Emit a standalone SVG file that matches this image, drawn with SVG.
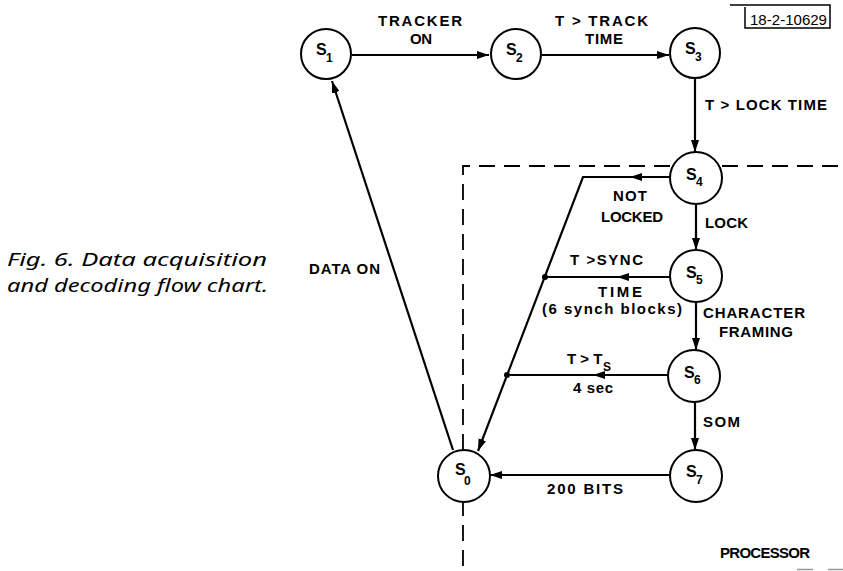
<svg xmlns="http://www.w3.org/2000/svg" width="843" height="571" viewBox="0 0 843 571">
<style>
.n{fill:#fff;stroke:#000;stroke-width:2}
.e{fill:none;stroke:#000;stroke-width:2.2}
.d{fill:none;stroke:#000;stroke-width:1.8;stroke-dasharray:16 9}
.t{font-family:"Liberation Sans",Arial,sans-serif;font-weight:bold;font-size:15px;fill:#000}
.s{font-family:"Liberation Sans",Arial,sans-serif;font-weight:bold;font-size:16px;fill:#000}
.sub{font-family:"Liberation Sans",Arial,sans-serif;font-weight:bold;font-size:12px;fill:#000}
.cap{font-family:"Noto Sans","Liberation Sans",sans-serif;font-style:italic;font-size:18px;fill:#000}
</style>
<defs>
<marker id="ah" viewBox="0 0 12 8" refX="12" refY="4" markerWidth="12" markerHeight="8" markerUnits="userSpaceOnUse" orient="auto">
<path d="M0,0 L12,4 L0,8 z" fill="#000"/>
</marker>
</defs>
<rect width="843" height="571" fill="#fff"/>

<g id="boundary">
<path class="d" d="M463,566 V500"/>
<path class="d" d="M463,450 V166 H670"/>
<path class="d" d="M722,166 H843"/>
<path d="M797,569.5 H813 M828,569.5 H843" stroke="#999" stroke-width="1.5" fill="none"/>
</g>

<g id="tag">
<path d="M730,5 H830 V28 H745 V7" fill="none" stroke="#000" stroke-width="1.5"/>
<text x="750" y="25" font-family="'Liberation Sans',Arial,sans-serif" font-size="15" textLength="77" lengthAdjust="spacingAndGlyphs">18-2-10629</text>
</g>

<g id="caption">
<text class="cap" x="7" y="266" textLength="260" lengthAdjust="spacingAndGlyphs">Fig. 6.  Data acquisition</text>
<text class="cap" x="7" y="292" textLength="261" lengthAdjust="spacingAndGlyphs">and decoding flow chart.</text>
</g>

<g id="connectors">
<path class="e" d="M352,55 L489,55" marker-end="url(#ah)"/>
<path class="e" d="M542,55 L669,55" marker-end="url(#ah)"/>
<path class="e" d="M695,79 L695,152" marker-end="url(#ah)"/>
<path class="e" d="M670,177 L630,177" marker-end="url(#ah)"/>
<path class="e" d="M632,177 L583,177 L478,451" marker-end="url(#ah)"/>
<path class="e" d="M696,204 L696,250" marker-end="url(#ah)"/>
<path class="e" d="M670,277 L617,277" marker-end="url(#ah)"/>
<path class="e" d="M619,277 L545,277"/>
<path class="e" d="M696,302 L696,350" marker-end="url(#ah)"/>
<path class="e" d="M668,375 L593,375" marker-end="url(#ah)"/>
<path class="e" d="M595,375 L507,375"/>
<path class="e" d="M695,402 L695,450" marker-end="url(#ah)"/>
<path class="e" d="M670,475 L490,475" marker-end="url(#ah)"/>
<path class="e" d="M453,450 L332,81" marker-end="url(#ah)"/>
<circle cx="545" cy="277" r="3" fill="#000"/>
<circle cx="507" cy="375" r="3" fill="#000"/>
</g>

<g id="labels">
<text class="t" x="378" y="26" textLength="84" lengthAdjust="spacing">TRACKER</text>
<text class="t" x="410" y="44" textLength="22" lengthAdjust="spacing">ON</text>
<text class="t" x="555" y="26" textLength="93" lengthAdjust="spacing">T &gt; TRACK</text>
<text class="t" x="585" y="44" textLength="38" lengthAdjust="spacing">TIME</text>
<text class="t" x="705" y="110" textLength="122" lengthAdjust="spacing">T &gt; LOCK TIME</text>
<text class="t" x="613" y="201" textLength="34" lengthAdjust="spacing">NOT</text>
<text class="t" x="601" y="222" textLength="62" lengthAdjust="spacing">LOCKED</text>
<text class="t" x="705" y="228" textLength="43" lengthAdjust="spacing">LOCK</text>
<text class="t" x="570" y="265" textLength="73" lengthAdjust="spacing">T &gt;SYNC</text>
<text class="t" x="598" y="297" textLength="44" lengthAdjust="spacing">TIME</text>
<text class="t" x="542" y="314" textLength="140" lengthAdjust="spacing">(6 synch blocks)</text>
<text class="t" x="703" y="318" textLength="102" lengthAdjust="spacing">CHARACTER</text>
<text class="t" x="719" y="337" textLength="74" lengthAdjust="spacing">FRAMING</text>
<text class="t" x="567" y="364">T &gt; T</text>
<text class="sub" x="603" y="371">S</text>
<text class="t" x="573" y="393" textLength="40" lengthAdjust="spacing">4 sec</text>
<text class="t" x="703" y="427" textLength="37" lengthAdjust="spacing">SOM</text>
<text class="t" x="547" y="494" textLength="76" lengthAdjust="spacing">200 BITS</text>
<text class="t" x="309" y="274" textLength="71" lengthAdjust="spacing">DATA ON</text>
<text class="t" x="720" y="558" font-size="14" textLength="90" lengthAdjust="spacing">PROCESSOR</text>
</g>

<g id="S1"><circle class="n" cx="326" cy="54" r="25"/><text class="s" x="316" y="55">S</text><text class="sub" x="326" y="62">1</text></g>
<g id="S2"><circle class="n" cx="516" cy="54" r="25"/><text class="s" x="506" y="55">S</text><text class="sub" x="516" y="62">2</text></g>
<g id="S3"><circle class="n" cx="695" cy="53" r="25"/><text class="s" x="685" y="54">S</text><text class="sub" x="695" y="61">3</text></g>
<g id="S4"><circle class="n" cx="696" cy="178" r="26"/><text class="s" x="686" y="180">S</text><text class="sub" x="696" y="186">4</text></g>
<g id="S5"><circle class="n" cx="696" cy="276" r="26"/><text class="s" x="686" y="278">S</text><text class="sub" x="696" y="284">5</text></g>
<g id="S6"><circle class="n" cx="694" cy="376" r="26"/><text class="s" x="684" y="378">S</text><text class="sub" x="694" y="384">6</text></g>
<g id="S7"><circle class="n" cx="696" cy="476" r="26"/><text class="s" x="686" y="477">S</text><text class="sub" x="696" y="484">7</text></g>
<g id="S0"><circle class="n" cx="464" cy="476" r="26"/><text class="s" x="455" y="475">S</text><text class="sub" x="464" y="485">0</text></g>
</svg>
